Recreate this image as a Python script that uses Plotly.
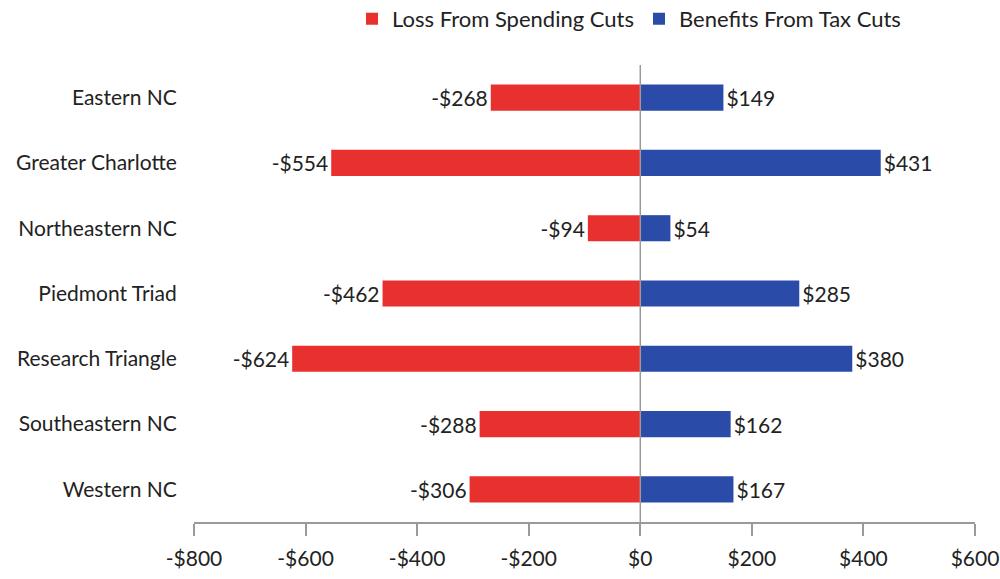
import plotly.graph_objects as go

regions = ["Eastern NC", "Greater Charlotte", "Northeastern NC", "Piedmont Triad",
           "Research Triangle", "Southeastern NC", "Western NC"]
spending_loss = [-268, -554, -94, -462, -624, -288, -306]
tax_benefit = [149, 431, 54, 285, 380, 162, 167]

tick_vals = [-800, -600, -400, -200, 0, 200, 400, 600]
tick_text = ["-$800", "-$600", "-$400", "-$200", "$0", "$200", "$400", "$600"]

RED = "#E8302F"
BLUE = "#2A4CA8"
FONT = "Lato, 'Open Sans', sans-serif"


def money(v):
    return f"-${abs(v)}" if v < 0 else f"${v}"


fig = go.Figure()
fig.add_trace(go.Bar(
    y=regions, x=spending_loss, orientation="h", name="Loss From Spending Cuts",
    marker=dict(color=RED, line=dict(width=0)),
    text=[money(v) for v in spending_loss], textposition="outside",
    textfont=dict(size=21, color="#222", family=FONT), cliponaxis=False,
))
fig.add_trace(go.Bar(
    y=regions, x=tax_benefit, orientation="h", name="Benefits From Tax Cuts",
    marker=dict(color=BLUE, line=dict(width=0)),
    text=[money(v) for v in tax_benefit], textposition="outside",
    textfont=dict(size=21, color="#222", family=FONT), cliponaxis=False,
))

# vertical zero line drawn over the bars
fig.add_shape(type="line", xref="x", yref="paper", x0=0, x1=0, y0=0, y1=1,
              line=dict(color="#9a9a9a", width=1.5), layer="above")

fig.update_layout(
    width=1000, height=579,
    margin=dict(l=194, r=25, t=65, b=57, autoexpand=False),
    paper_bgcolor="white", plot_bgcolor="white",
    barmode="relative", bargap=0.6,
    font=dict(family=FONT, size=20, color="#222"),
    showlegend=True,
    legend=dict(orientation="h", x=0.557, xanchor="center", y=1.055, yanchor="bottom",
                font=dict(size=22, color="#222"),
                itemwidth=30, traceorder="normal"),
    xaxis=dict(range=[-800, 600], tickvals=tick_vals, ticktext=tick_text,
               automargin=False,
               showgrid=False, zeroline=False, showline=True, linecolor="#9a9a9a",
               linewidth=1.5, ticks="outside", ticklen=12, tickcolor="#9a9a9a",
               tickwidth=1.5, ticklabelstandoff=5, tickfont=dict(size=21, color="#222")),
    yaxis=dict(autorange="reversed", showgrid=False, zeroline=False, showline=False,
               automargin=False,
               ticks="outside", ticklen=12, tickcolor="rgba(0,0,0,0)",
               tickfont=dict(size=21, color="#222")),
)

fig.write_html("out.html")
